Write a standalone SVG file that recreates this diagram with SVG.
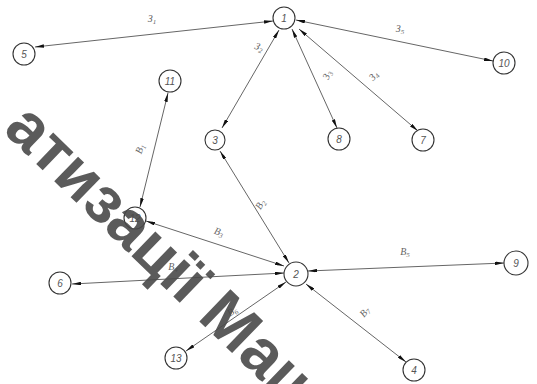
<svg xmlns="http://www.w3.org/2000/svg" width="537" height="384" viewBox="0 0 537 384">
<style>
.n circle{fill:#fff;stroke:#333;stroke-width:1.1}
.n text{font-family:"Liberation Sans",Arial,sans-serif;font-size:10px;font-style:italic;fill:#555;text-anchor:middle}
.e line{stroke:#666;stroke-width:1;marker-start:url(#ah);marker-end:url(#ah)}
.lb{font-family:"Liberation Serif","Times New Roman",serif;font-size:10px;font-style:italic;fill:#666;text-anchor:middle}
.wm{font-family:"Liberation Sans",Arial,sans-serif;font-size:65px;font-weight:bold;fill:#4a4a4a;opacity:0.9}
</style>
<defs>
<marker id="ah" viewBox="0 0 10 4" refX="10" refY="2" markerWidth="9" markerHeight="3.6" markerUnits="userSpaceOnUse" orient="auto-start-reverse">
<path d="M0,0 L10,2 L0,4 z" fill="#111"/>
</marker>
</defs>
<rect width="537" height="384" fill="#fff"/>
<g id="connectors" class="e">
<line x1="273" y1="21" x2="35" y2="47"/>
<line x1="296" y1="20" x2="493" y2="61"/>
<line x1="279" y1="30" x2="222" y2="128"/>
<line x1="292" y1="29" x2="337" y2="128"/>
<line x1="299" y1="29" x2="418" y2="131"/>
<line x1="168" y1="93" x2="140" y2="207"/>
<line x1="220" y1="151" x2="289" y2="263"/>
<line x1="146" y1="221" x2="284" y2="266"/>
<line x1="72" y1="284" x2="284" y2="273"/>
<line x1="308" y1="271" x2="504" y2="263"/>
<line x1="186" y1="351" x2="286" y2="282"/>
<line x1="306" y1="284" x2="406" y2="362"/>
</g>
<g id="edge-labels">
<text class="lb" x="152" y="22">З<tspan font-size="7" dy="2">1</tspan></text>
<text class="lb" x="258" y="50" transform="rotate(20 258 50)">З<tspan font-size="7" dy="2">2</tspan></text>
<text class="lb" x="330" y="76" transform="rotate(-70 330 76)">З<tspan font-size="7" dy="2">3</tspan></text>
<text class="lb" x="376" y="78" transform="rotate(-50 376 78)">З<tspan font-size="7" dy="2">4</tspan></text>
<text class="lb" x="400" y="32">З<tspan font-size="7" dy="2">5</tspan></text>
<text class="lb" x="143" y="150" transform="rotate(-70 143 150)">В<tspan font-size="7" dy="2">1</tspan></text>
<text class="lb" x="263" y="206" transform="rotate(-60 263 206)">В<tspan font-size="7" dy="2">2</tspan></text>
<text class="lb" x="218" y="235" transform="rotate(18 218 235)">В<tspan font-size="7" dy="2">3</tspan></text>
<text class="lb" x="173" y="270">В<tspan font-size="7" dy="2">4</tspan></text>
<text class="lb" x="405" y="255">В<tspan font-size="7" dy="2">5</tspan></text>
<text class="lb" x="234" y="314" transform="rotate(-35 234 314)">В<tspan font-size="7" dy="2">6</tspan></text>
<text class="lb" x="367" y="314" transform="rotate(-50 367 314)">В<tspan font-size="7" dy="2">7</tspan></text>
</g>
<g id="node-1" class="n"><circle cx="284" cy="18" r="11"/><text x="284" y="22">1</text></g>
<g id="node-5" class="n"><circle cx="24" cy="54" r="11"/><text x="24" y="58">5</text></g>
<g id="node-10" class="n"><circle cx="504" cy="63" r="11"/><text x="504" y="67">10</text></g>
<g id="node-11" class="n"><circle cx="170" cy="81" r="11"/><text x="170" y="85">11</text></g>
<g id="node-3" class="n"><circle cx="215" cy="140" r="10"/><text x="215" y="144">3</text></g>
<g id="node-8" class="n"><circle cx="339" cy="139" r="11"/><text x="339" y="143">8</text></g>
<g id="node-7" class="n"><circle cx="423" cy="140" r="11"/><text x="423" y="144">7</text></g>
<g id="node-12" class="n"><circle cx="135" cy="218" r="11"/><text x="135" y="222">12</text></g>
<g id="node-2" class="n"><circle cx="296" cy="274" r="12"/><text x="296" y="278">2</text></g>
<g id="node-6" class="n"><circle cx="60" cy="283" r="11"/><text x="60" y="287">6</text></g>
<g id="node-9" class="n"><circle cx="516" cy="263" r="12"/><text x="516" y="267">9</text></g>
<g id="node-13" class="n"><circle cx="176" cy="358" r="11"/><text x="176" y="362">13</text></g>
<g id="node-4" class="n"><circle cx="414" cy="370" r="11"/><text x="414" y="374">4</text></g>
<g id="watermark">
<text class="wm" x="2" y="131" transform="rotate(44 2 131)">атизації Маш</text>
</g>
</svg>
